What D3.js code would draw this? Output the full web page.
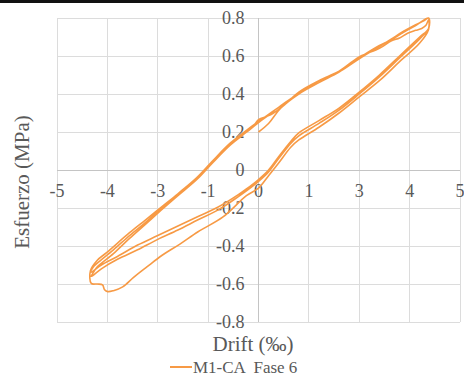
<!DOCTYPE html>
<html>
<head>
<meta charset="utf-8">
<script src="https://cdn.jsdelivr.net/npm/d3@7"></script>
<style>
  html, body { margin: 0; padding: 0; background: #fff; }
  svg { display: block; }
</style>
</head>
<body>
<svg id="chart" width="464" height="376" font-family="'Liberation Serif', 'Times New Roman', Times, serif"></svg>
<script>
// Axis ticks (Excel-style major unit 1.25 on drift, 0.2 on stress)
const xTicks = [-5, -3.75, -2.5, -1.25, 0, 1.25, 2.5, 3.75, 5];
const yTicks = [-0.8, -0.6, -0.4, -0.2, 0, 0.2, 0.4, 0.6, 0.8];
const yTickLabels = ["-0.8", "-0.6", "-0.4", "-0.2", "0", "0.2", "0.4", "0.6", "0.8"];

const seriesName = "M1-CA  Fase 6";

// Cycle 1: initial loading, peak, outer unloading branch with the dip, reload
const cycle1Drift  = [0, 0.25, 0.55, 1.0, 1.5, 2.0, 2.5, 3.0, 3.3, 3.6, 3.9, 4.1, 4.22,
  4.22, 4.0, 3.5, 3.0, 2.5, 2.0, 1.5, 1.0, 0.8, 0.5, 0.25, 0.0, -0.3, -0.88, -1.5, -1.95, -2.4, -2.77, -3.1, -3.37, -3.6, -3.74, -3.82, -3.87, -4.0, -4.15,
  -4.17, -4.0, -3.77, -3.2, -2.8, -2.38, -2.0, -1.53, -1.13, -0.71, -0.29, 0, 0.5, 1.0, 1.5, 2.0, 2.5, 3.0, 3.3, 3.6, 3.9, 4.22];
const cycle1Stress = [0.20, 0.245, 0.325, 0.40, 0.46, 0.515, 0.585, 0.65, 0.69, 0.73, 0.765, 0.785, 0.80,
  0.74, 0.668, 0.57, 0.47, 0.385, 0.30, 0.225, 0.158, 0.12, 0.037, -0.03, -0.095, -0.135, -0.247, -0.325, -0.39, -0.45, -0.51, -0.565, -0.615, -0.635, -0.64, -0.63, -0.605, -0.60, -0.597,
  -0.53, -0.475, -0.435, -0.33, -0.262, -0.19, -0.125, -0.04, 0.05, 0.14, 0.21, 0.255, 0.33, 0.405, 0.47, 0.52, 0.59, 0.655, 0.685, 0.725, 0.76, 0.80];

// Cycle 2
const cycle2Drift  = [4.22, 4.0, 3.5, 3.0, 2.5, 2.0, 1.5, 1.0, 0.8, 0.5, 0.25, 0.0, -0.3, -0.5, -1.0, -1.5, -2.0, -2.5, -3.0, -3.5, -3.9, -4.17,
  -4.1, -4.0, -3.6, -3.2, -2.8, -2.38, -2.0, -1.53, -1.13, -0.71, -0.29, -0.1, 0.0, 0.3, 0.6, 1.0, 1.5, 1.8, 2.0, 2.5, 3.0, 3.3, 3.5, 3.7, 3.9, 4.05, 4.15, 4.22];
const cycle2Stress = [0.745, 0.70, 0.60, 0.50, 0.41, 0.326, 0.26, 0.195, 0.15, 0.07, 0.0, -0.05, -0.10, -0.13, -0.195, -0.245, -0.295, -0.345, -0.395, -0.455, -0.50, -0.54,
  -0.51, -0.49, -0.42, -0.345, -0.275, -0.198, -0.13, -0.045, 0.045, 0.135, 0.205, 0.24, 0.265, 0.29, 0.335, 0.41, 0.47, 0.50, 0.52, 0.595, 0.64, 0.68, 0.695, 0.72, 0.735, 0.745, 0.76, 0.79];

// Cycle 3
const cycle3Drift  = [4.22, 4.0, 3.5, 3.0, 2.5, 2.0, 1.5, 1.0, 0.8, 0.5, 0.25, 0.0, -0.3, -0.5, -1.0, -1.5, -2.0, -2.5, -3.0, -3.5, -3.9, -4.15,
  -4.1, -4.0, -3.6, -3.2, -2.8, -2.38, -2.0, -1.53, -1.13, -0.71, -0.29, 0.0, 0.4];
const cycle3Stress = [0.745, 0.69, 0.59, 0.49, 0.40, 0.315, 0.245, 0.18, 0.14, 0.06, -0.01, -0.06, -0.11, -0.14, -0.21, -0.262, -0.316, -0.365, -0.42, -0.47, -0.52, -0.56,
  -0.54, -0.51, -0.44, -0.36, -0.285, -0.205, -0.135, -0.05, 0.04, 0.13, 0.20, 0.25, 0.31];

const drift  = [...cycle1Drift, ...cycle2Drift, ...cycle3Drift];
const stress = [...cycle1Stress, ...cycle2Stress, ...cycle3Stress];
const points = drift.map((d, i) => [d, stress[i]]);

const svg = d3.select("#chart");
const plot = { left: 57, right: 460, top: 18, bottom: 322 };
const textColor = "#595959";

const x = d3.scaleLinear().domain([-5, 5]).range([plot.left, plot.right]);
const y = d3.scaleLinear().domain([-0.8, 0.8]).range([plot.bottom, plot.top]);

// Excel "0" number format rounds half away from zero
const fmtDrift = v => { const r = Math.sign(v) * Math.round(Math.abs(v)); return r < 0 ? "-" + Math.abs(r) : String(r); };

// black band along the top edge
svg.append("rect").attr("x", 0).attr("y", 0).attr("width", 464).attr("height", 3).attr("fill", "#111");

// gridlines
const grid = svg.append("g").attr("stroke", "#dcdcdc").attr("stroke-width", 1).attr("shape-rendering", "crispEdges");
grid.selectAll("line.v").data(xTicks).join("line").attr("class", "v")
  .attr("x1", d => x(d)).attr("x2", d => x(d)).attr("y1", plot.top).attr("y2", plot.bottom);
grid.selectAll("line.h").data(yTicks).join("line").attr("class", "h")
  .attr("x1", plot.left).attr("x2", plot.right).attr("y1", d => y(d)).attr("y2", d => y(d));

// axes crossing at the origin
const axes = svg.append("g").attr("stroke", "#c4c4c4").attr("stroke-width", 1).attr("shape-rendering", "crispEdges");
axes.append("line").attr("x1", x(0)).attr("x2", x(0)).attr("y1", plot.top).attr("y2", plot.bottom);
axes.append("line").attr("x1", plot.left).attr("x2", plot.right).attr("y1", y(0)).attr("y2", y(0));

// tick labels
svg.append("g").selectAll("text").data(yTicks).join("text")
  .attr("x", x(0) - 14).attr("y", d => y(d)).attr("dy", "0.36em")
  .attr("text-anchor", "end").attr("font-size", 18).attr("fill", textColor)
  .text((d, i) => yTickLabels[i]);
svg.append("g").selectAll("text").data(xTicks).join("text")
  .attr("x", d => x(d)).attr("y", y(0) + 27)
  .attr("text-anchor", "middle").attr("font-size", 18).attr("fill", textColor)
  .text(d => fmtDrift(d));

// hysteresis curve
const line = d3.line().x(d => x(d[0])).y(d => y(d[1])).curve(d3.curveCatmullRom.alpha(0.5));
svg.append("path").datum(points)
  .attr("fill", "none").attr("stroke", "#f79a45").attr("stroke-width", 1.6)
  .attr("stroke-linejoin", "round").attr("d", line);

// axis titles
svg.append("text").attr("transform", "translate(29,182) rotate(-90)")
  .attr("text-anchor", "middle").attr("font-size", 21).attr("fill", textColor).text("Esfuerzo (MPa)");
svg.append("text").attr("x", 253).attr("y", 351)
  .attr("text-anchor", "middle").attr("font-size", 21).attr("fill", textColor).text("Drift (‰)");

// legend
svg.append("line").attr("x1", 170).attr("x2", 192).attr("y1", 367).attr("y2", 367)
  .attr("stroke", "#f79a45").attr("stroke-width", 2);
svg.append("text").attr("x", 193).attr("y", 373).attr("font-size", 17).attr("fill", textColor)
  .attr("xml:space", "preserve").style("white-space", "pre").text(seriesName);
</script>
</body>
</html>
